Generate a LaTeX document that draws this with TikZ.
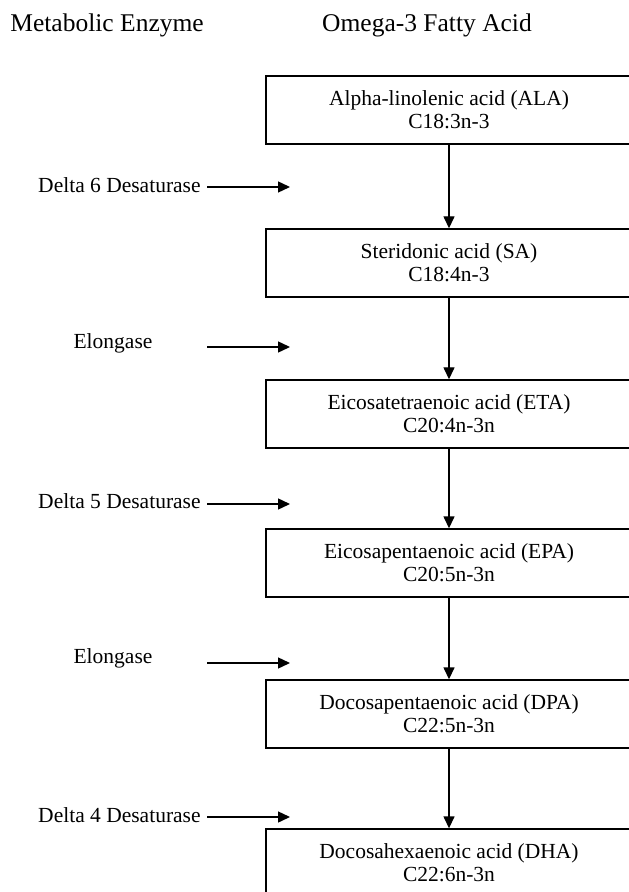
\documentclass[tikz,border=0pt]{standalone}
\usepackage{fontspec}
\setmainfont{Liberation Serif}
\usetikzlibrary{arrows.meta}
\begin{document}
\begin{tikzpicture}[x=0.5pt, y=-0.5pt,
        acid/.style={draw, line width=0.7pt, minimum width=183pt, minimum height=34pt,
            inner sep=0pt, align=center, font=\fontsize{10.75}{11.5}\selectfont},
        enzyme/.style={inner sep=0pt, font=\fontsize{10.75}{11.5}\selectfont},
        head/.style={inner sep=0pt, font=\fontsize{12.75}{15}\selectfont},
        flow/.style={line width=0.7pt, -{Triangle[length=6pt, width=5.5pt]}}]
    \useasboundingbox (0,0) rectangle (628,892);
    \node[head, anchor=west] (enzhead) at (10,25) {Metabolic Enzyme};
    \node[head] (acidhead) at (427,25) {Omega-3 Fatty Acid};
    \node[acid] (ala) at (449,110) {Alpha-linolenic acid (ALA)\\C18:3n-3};
    \node[acid] (sa) at (449,263) {Steridonic acid (SA)\\C18:4n-3};
    \node[acid] (eta) at (449,414) {Eicosatetraenoic acid (ETA)\\C20:4n-3n};
    \node[acid] (epa) at (449,563) {Eicosapentaenoic acid (EPA)\\C20:5n-3n};
    \node[acid] (dpa) at (449,714) {Docosapentaenoic acid (DPA)\\C22:5n-3n};
    \node[acid] (dha) at (449,863) {Docosahexaenoic acid (DHA)\\C22:6n-3n};
    \draw[flow] (ala) -- (sa);
    \draw[flow] (sa) -- (eta);
    \draw[flow] (eta) -- (epa);
    \draw[flow] (epa) -- (dpa);
    \draw[flow] (dpa) -- (dha);
    \node[enzyme, anchor=east] (desat6) at (201,185) {Delta 6 Desaturase};
    \node[enzyme] (elong1) at (113,343) {Elongase};
    \node[enzyme, anchor=east] (desat5) at (201,501) {Delta 5 Desaturase};
    \node[enzyme] (elong2) at (113,658) {Elongase};
    \node[enzyme, anchor=east] (desat4) at (201,815) {Delta 4 Desaturase};
    \coordinate (desat6a) at (207,187); \coordinate (desat6b) at (290,187);
    \coordinate (elong1a) at (207,347); \coordinate (elong1b) at (290,347);
    \coordinate (desat5a) at (207,504); \coordinate (desat5b) at (290,504);
    \coordinate (elong2a) at (207,663); \coordinate (elong2b) at (290,663);
    \coordinate (desat4a) at (207,817); \coordinate (desat4b) at (290,817);
    \draw[flow] (desat6a) -- (desat6b);
    \draw[flow] (elong1a) -- (elong1b);
    \draw[flow] (desat5a) -- (desat5b);
    \draw[flow] (elong2a) -- (elong2b);
    \draw[flow] (desat4a) -- (desat4b);
\end{tikzpicture}
\end{document}
